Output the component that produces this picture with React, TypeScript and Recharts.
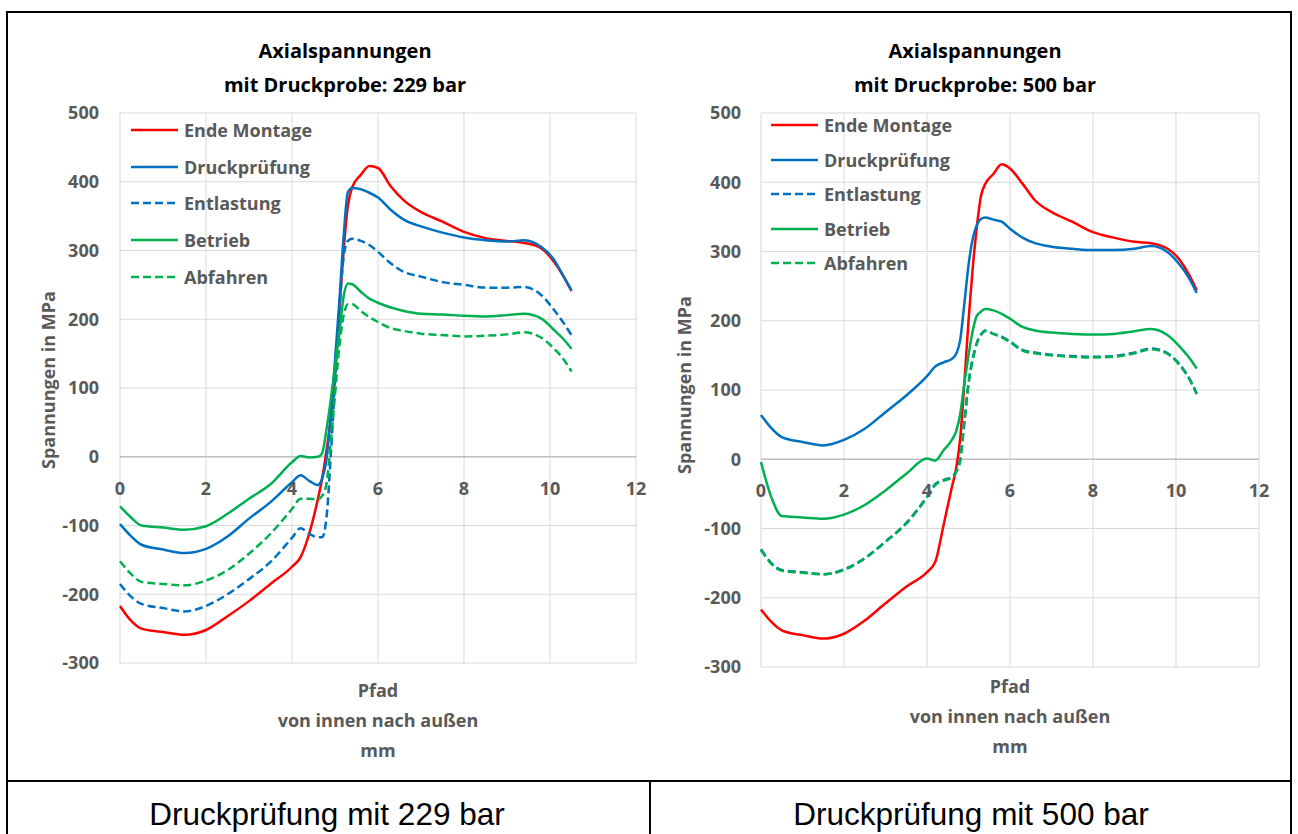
import React from 'react';
import { LineChart, Line, XAxis, YAxis, CartesianGrid, ReferenceLine } from 'recharts';

// path positions (mm) shared by both charts
const pathMm = [0, 0.25, 0.5, 1, 1.5, 2, 2.5, 3, 3.5, 4, 4.2, 4.4, 4.6, 4.7, 4.8, 4.9, 5.0, 5.1, 5.2, 5.3, 5.4, 5.6, 5.8, 6.0, 6.3, 6.6, 7.0, 7.5, 8.0, 8.5, 9.0, 9.4, 9.8, 10.1, 10.3, 10.5];

// 229 bar
const endeMontage229 = [-217, -238, -250, -255, -259, -252, -232, -210, -185, -160, -146, -112, -62, -32, 8, 55, 120, 215, 300, 365, 392, 410, 423, 420, 393, 373, 356, 342, 327, 318, 314, 311, 303, 283, 264, 241];
const druckpruefung229 = [-98, -115, -128, -135, -140, -134, -116, -90, -66, -37, -27, -35, -41, -32, -5, 60, 140, 225, 320, 385, 391, 389, 384, 377, 359, 345, 335, 326, 319, 315, 313, 315, 305, 286, 264, 242];
const entlastung229 = [-185, -203, -214, -220, -225, -217, -200, -178, -153, -118, -104, -112, -117, -117, -90, 0, 110, 210, 290, 314, 317, 314, 308, 298, 281, 269, 262, 254, 250, 246, 246, 247, 235, 213, 196, 177];
const betrieb229 = [-72, -88, -100, -103, -106, -101, -83, -61, -40, -8, 1, -1, 0, 5, 39, 82, 131, 179, 233, 252, 251, 240, 230, 224, 217, 212, 208, 207, 205, 204, 206, 208, 201, 184, 172, 157];
const abfahren229 = [-152, -170, -182, -185, -187, -180, -165, -141, -112, -76, -61, -61, -62, -57, -40, 20, 90, 160, 205, 222, 222, 212, 203, 196, 187, 183, 179, 177, 175, 176, 178, 181, 173, 157, 143, 124];

// 500 bar
const endeMontage500 = [-217, -235, -247, -254, -259, -252, -233, -208, -184, -163, -148, -95, -40, -14, 30, 110, 200, 275, 335, 380, 397, 412, 426, 420, 398, 374, 357, 343, 328, 320, 314, 312, 304, 287, 268, 244];
const druckpruefung500 = [64, 45, 32, 25, 20, 28, 44, 68, 92, 120, 134, 140, 145, 152, 172, 225, 280, 318, 338, 347, 349, 346, 343, 333, 320, 312, 307, 304, 302, 302, 304, 308, 299, 280, 263, 240];
const entlastung500 = [-130, -150, -160, -163, -166, -159, -143, -119, -92, -54, -36, -30, -25, -18, 0, 55, 110, 145, 168, 180, 186, 181, 177, 170, 158, 154, 151, 149, 148, 149, 154, 160, 153, 136, 119, 95];
const betrieb500 = [-4, -55, -82, -84, -86, -80, -66, -45, -21, 1, -2, 13, 28, 40, 65, 110, 150, 185, 207, 213, 217, 215, 210, 203, 191, 186, 183, 181, 180, 181, 185, 188, 179, 162, 148, 131];
const abfahren500 = [-131, -151, -161, -164, -166, -160, -143, -119, -93, -55, -37, -31, -26, -19, -2, 52, 108, 143, 167, 180, 185, 181, 176, 169, 157, 153, 150, 148, 147, 148, 153, 159, 152, 135, 118, 94];

const xTicks = [0, 2, 4, 6, 8, 10, 12];
const yTicks = [-300, -200, -100, 0, 100, 200, 300, 400, 500];
const Y_MIN = -300;
const Y_MAX = 500;

const seriesNames = ['Ende Montage', 'Druckprüfung', 'Entlastung', 'Betrieb', 'Abfahren'];

const FONT = "'Open Sans', 'DejaVu Sans', sans-serif";
const GRAY = '#595959';

const seriesStyle = [
  { key: 'endeMontage', color: '#ff0000', dash: undefined },
  { key: 'druckpruefung', color: '#0070c0', dash: undefined },
  { key: 'entlastung', color: '#0070c0', dash: '8 4' },
  { key: 'betrieb', color: '#00b050', dash: undefined },
  { key: 'abfahren', color: '#00b050', dash: '8 4' },
];

const buildRows = (cols: number[][]) =>
  pathMm.map((x, i) => ({
    x,
    endeMontage: cols[0][i],
    druckpruefung: cols[1][i],
    entlastung: cols[2][i],
    betrieb: cols[3][i],
    abfahren: cols[4][i],
  }));

const rows229 = buildRows([endeMontage229, druckpruefung229, entlastung229, betrieb229, abfahren229]);
const rows500 = buildRows([endeMontage500, druckpruefung500, entlastung500, betrieb500, abfahren500]);

const Txt = ({ x, y, size = 18, rotate = false, color = GRAY, bold = true, family = FONT, children }: any) => (
  <div
    style={{
      position: 'absolute',
      left: x,
      top: y,
      transform: `translate(-50%, -50%)${rotate ? ' rotate(-90deg)' : ''}`,
      whiteSpace: 'nowrap',
      lineHeight: 1,
      fontFamily: family,
      fontWeight: bold ? 700 : 400,
      fontSize: size,
      color,
    }}
  >
    {children}
  </div>
);

const LegendBox = ({ left, top, rowGap }: { left: number; top: number; rowGap: number }) => (
  <div style={{ position: 'absolute', left, top }}>
    {seriesStyle.map((s, i) => (
      <div key={s.key} style={{ position: 'absolute', left: 0, top: i * rowGap, display: 'flex', alignItems: 'center', height: 20, transform: 'translateY(-50%)' }}>
        <svg width={48} height={6} style={{ display: 'block' }}>
          <line x1={0} y1={3} x2={47} y2={3} stroke={s.color} strokeWidth={2.5} strokeDasharray={s.dash} />
        </svg>
        <span style={{ marginLeft: 5, fontFamily: FONT, fontWeight: 700, fontSize: 18, color: GRAY, whiteSpace: 'nowrap' }}>
          {seriesNames[i]}
        </span>
      </div>
    ))}
  </div>
);

interface PanelProps {
  rows: any[];
  width: number;
  plotHeight: number;
  yAxisWidth: number;
  rightMargin: number;
  tickGap: number;
}

const TOP_MARGIN = 13;

const StressPanel = ({ rows, width, plotHeight, yAxisWidth, rightMargin, tickGap }: PanelProps) => {
  const zeroY = TOP_MARGIN + (plotHeight * Y_MAX) / (Y_MAX - Y_MIN);
  const XTick = (props: any) => (
    <text x={props.x} y={zeroY + 31} textAnchor="middle" dominantBaseline="central" fontFamily={FONT} fontWeight={700} fontSize={18} fill={GRAY}>
      {props.payload.value}
    </text>
  );
  return (
    <LineChart width={width} height={TOP_MARGIN + plotHeight + 30} data={rows} margin={{ top: TOP_MARGIN, right: rightMargin, bottom: 0, left: 0 }}>
      <CartesianGrid stroke="#d9d9d9" strokeWidth={1} />
      <XAxis dataKey="x" type="number" domain={[0, 12]} ticks={xTicks} axisLine={false} tickLine={false} tick={XTick} height={30} />
      <YAxis
        type="number"
        domain={[Y_MIN, Y_MAX]}
        ticks={yTicks}
        width={yAxisWidth}
        axisLine={false}
        tickLine={false}
        tickSize={0}
        tickMargin={tickGap}
        tick={{ fontFamily: FONT, fontWeight: 700, fontSize: 18, fill: GRAY }}
      />
      <ReferenceLine y={0} stroke="#bfbfbf" strokeWidth={1.5} />
      {seriesStyle.map((s) => (
        <Line
          key={s.key}
          type="monotone"
          dataKey={s.key}
          stroke={s.color}
          strokeWidth={2.5}
          strokeDasharray={s.dash}
          dot={false}
          isAnimationActive={false}
        />
      ))}
    </LineChart>
  );
};

export default function App() {
  return (
    <div style={{ position: 'relative', width: 1298, height: 834, background: '#fff', overflow: 'hidden' }}>
      <style>{'body{margin:0}'}</style>

      {/* table frame */}
      <div style={{ position: 'absolute', left: 6, top: 11, width: 1282, height: 900, border: '2px solid #000' }} />
      <div style={{ position: 'absolute', left: 6, top: 780, width: 1286, height: 2, background: '#000' }} />
      <div style={{ position: 'absolute', left: 649, top: 780, width: 2, height: 60, background: '#000' }} />

      {/* left chart */}
      <Txt x={345} y={51} size={20} color="#000">Axialspannungen</Txt>
      <Txt x={345} y={85} size={20} color="#000">mit Druckprobe: 229 bar</Txt>
      <div style={{ position: 'absolute', left: 0, top: 100 }}>
        <StressPanel rows={rows229} width={660} plotHeight={550} yAxisWidth={120} rightMargin={24} tickGap={21} />
      </div>
      <LegendBox left={131} top={130} rowGap={36.7} />
      <Txt x={48} y={380} rotate>Spannungen in MPa</Txt>
      <Txt x={378} y={690}>Pfad</Txt>
      <Txt x={378} y={720}>von innen nach außen</Txt>
      <Txt x={378} y={750}>mm</Txt>

      {/* right chart */}
      <Txt x={975} y={51} size={20} color="#000">Axialspannungen</Txt>
      <Txt x={975} y={85} size={20} color="#000">mit Druckprobe: 500 bar</Txt>
      <div style={{ position: 'absolute', left: 640, top: 100 }}>
        <StressPanel rows={rows500} width={640} plotHeight={554} yAxisWidth={121} rightMargin={21} tickGap={20} />
      </div>
      <LegendBox left={771} top={125} rowGap={34.5} />
      <Txt x={684} y={385} rotate>Spannungen in MPa</Txt>
      <Txt x={1010} y={686}>Pfad</Txt>
      <Txt x={1010} y={716}>von innen nach außen</Txt>
      <Txt x={1010} y={746}>mm</Txt>

      {/* table captions */}
      <Txt x={327} y={815} size={31.5} color="#000" bold={false} family="'Liberation Sans', Arial, sans-serif">Druckprüfung mit 229 bar</Txt>
      <Txt x={971} y={815} size={31.5} color="#000" bold={false} family="'Liberation Sans', Arial, sans-serif">Druckprüfung mit 500 bar</Txt>
    </div>
  );
}
